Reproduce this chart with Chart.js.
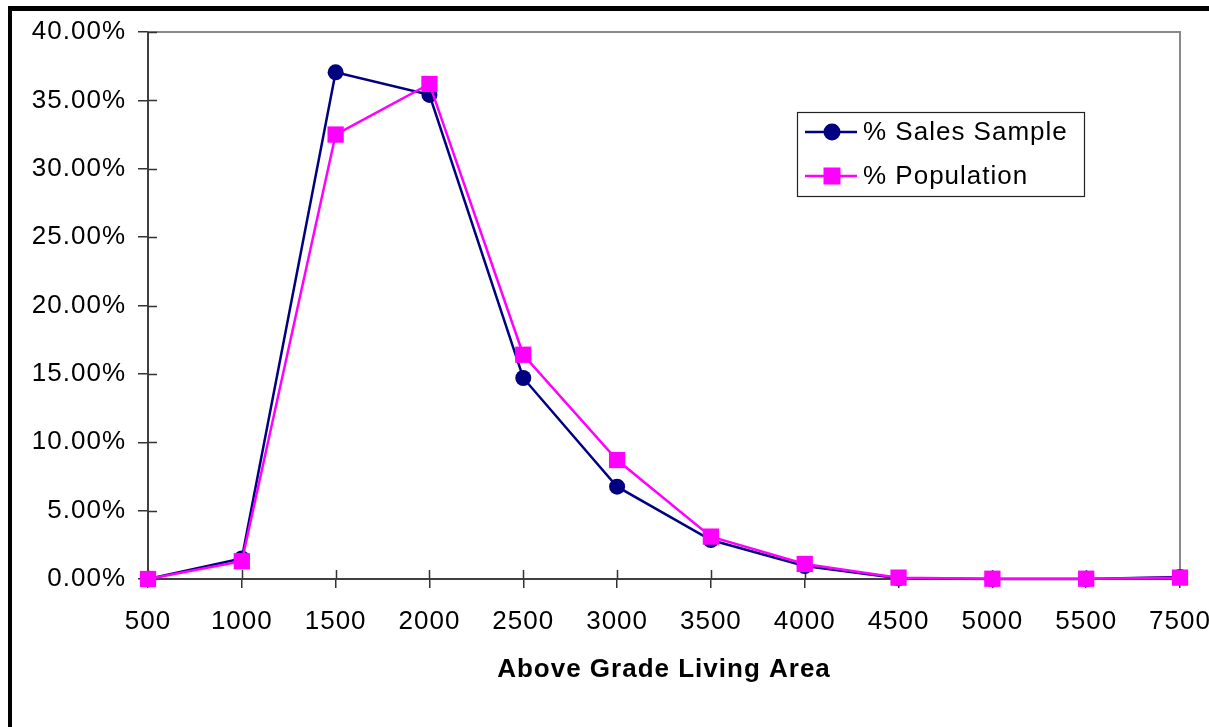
<!DOCTYPE html>
<html>
<head>
<meta charset="utf-8">
<script src="https://cdn.jsdelivr.net/npm/chart.js@4/dist/chart.umd.min.js"></script>
<style>
    html, body { margin: 0; padding: 0; background: #fff; }
    #chart { display: block; }
</style>
</head>
<body>
<canvas id="chart" width="1209" height="727"></canvas>
<script>
// Data
const areaLabels = ['500', '1000', '1500', '2000', '2500', '3000', '3500', '4000', '4500', '5000', '5500', '7500'];
const salesSample = [0, 1.5, 37.05, 35.4, 14.7, 6.75, 2.85, 0.95, 0.05, 0, 0, 0.15];
const population = [0, 1.3, 32.5, 36.2, 16.4, 8.7, 3.1, 1.1, 0.1, 0.02, 0.02, 0.1];
const yTicks = [0, 5, 10, 15, 20, 25, 30, 35, 40];

const NAVY = '#000080';
const MAGENTA = '#FF00FF';
const FONT = "'Liberation Sans', Arial, sans-serif";

// Black outer frame of the sheet
const framePlugin = {
    id: 'frame',
    beforeDraw(chart) {
        const ctx = chart.ctx;
        // the old chart text is set a bit wider than Liberation Sans
        ctx.letterSpacing = '1px';
        ctx.save();
        ctx.fillStyle = '#fff';
        ctx.fillRect(0, 0, chart.width, chart.height);
        ctx.fillStyle = '#000';
        ctx.fillRect(8, 6, chart.width, 5);
        ctx.fillRect(8, 6, 4, chart.height);
        ctx.restore();
    }
};

// Gray top/right plot border and inner half of cross tick marks
const plotBoxPlugin = {
    id: 'plotBox',
    beforeDatasetsDraw(chart) {
        const {ctx, chartArea: a, scales} = chart;
        ctx.save();
        ctx.strokeStyle = '#888';
        ctx.lineWidth = 2;
        ctx.beginPath();
        ctx.moveTo(a.left, a.top);
        ctx.lineTo(a.right, a.top);
        ctx.lineTo(a.right, a.bottom);
        ctx.stroke();

        ctx.strokeStyle = '#333';
        ctx.lineWidth = 1.5;
        ctx.beginPath();
        scales.y.ticks.forEach((t, i) => {
            const y = Math.round(scales.y.getPixelForTick(i)) + 0.5;
            ctx.moveTo(a.left, y);
            ctx.lineTo(a.left + 9, y);
        });
        scales.x.ticks.forEach((t, i) => {
            const x = Math.round(scales.x.getPixelForTick(i)) + 0.5;
            ctx.moveTo(x, a.bottom);
            ctx.lineTo(x, a.bottom - 9);
        });
        ctx.stroke();
        ctx.restore();
    }
};

// Boxed legend inside the plot
const boxLegendPlugin = {
    id: 'boxLegend',
    afterDraw(chart) {
        const ctx = chart.ctx;
        const box = {x: 797, y: 112, w: 287, h: 84};
        ctx.save();
        ctx.fillStyle = '#fff';
        ctx.fillRect(box.x, box.y, box.w, box.h);
        ctx.strokeStyle = '#222';
        ctx.lineWidth = 1.2;
        ctx.strokeRect(box.x + 0.5, box.y + 0.5, box.w, box.h);

        ctx.font = '26px ' + FONT;
        ctx.textBaseline = 'middle';
        ctx.textAlign = 'left';
        chart.data.datasets.forEach((ds, i) => {
            const cy = 132 + i * 44;
            ctx.strokeStyle = ds.borderColor;
            ctx.lineWidth = 2.5;
            ctx.beginPath();
            ctx.moveTo(805, cy);
            ctx.lineTo(857, cy);
            ctx.stroke();
            ctx.fillStyle = ds.pointBackgroundColor;
            if (ds.pointStyle === 'circle') {
                ctx.beginPath();
                ctx.arc(832, cy, 8.5, 0, Math.PI * 2);
                ctx.fill();
            } else {
                ctx.fillRect(832 - 8.5, cy - 8.5, 17, 17);
            }
            ctx.fillStyle = '#000';
            ctx.fillText(ds.label, 863, cy + 1);
        });
        ctx.restore();
    }
};

const ctx = document.getElementById('chart').getContext('2d');

new Chart(ctx, {
    type: 'line',
    data: {
        labels: areaLabels,
        datasets: [{
            label: '% Sales Sample',
            data: salesSample,
            borderColor: NAVY,
            backgroundColor: NAVY,
            pointBackgroundColor: NAVY,
            pointBorderColor: NAVY,
            pointStyle: 'circle',
            pointRadius: 8,
            pointBorderWidth: 0,
            borderWidth: 2.5,
            tension: 0,
            clip: false,
            order: 1
        }, {
            label: '% Population',
            data: population,
            borderColor: MAGENTA,
            backgroundColor: MAGENTA,
            pointBackgroundColor: MAGENTA,
            pointBorderColor: MAGENTA,
            pointStyle: 'rect',
            pointRadius: 11.5,
            pointBorderWidth: 0,
            borderWidth: 2.5,
            tension: 0,
            clip: false,
            order: 0
        }]
    },
    options: {
        responsive: false,
        animation: false,
        devicePixelRatio: 1,
        layout: {
            padding: {left: 0, top: 32, right: 29, bottom: 0}
        },
        plugins: {
            legend: { display: false },
            tooltip: { enabled: false }
        },
        scales: {
            x: {
                offset: false,
                afterFit(scale) {
                    scale.height = 148;
                    scale.paddingLeft = 0;
                    scale.paddingRight = 0;
                },
                grid: {
                    display: true,
                    drawOnChartArea: false,
                    drawTicks: true,
                    tickLength: 9,
                    color: '#333',
                    lineWidth: 1.5
                },
                border: { display: true, color: '#404040', width: 2 },
                ticks: {
                    color: '#000',
                    font: { family: FONT, size: 26 },
                    padding: 18,
                    maxRotation: 0,
                    autoSkip: false
                },
                title: {
                    display: true,
                    text: 'Above Grade Living Area',
                    color: '#000',
                    font: { family: FONT, size: 26, weight: 'bold' },
                    padding: { top: 0, bottom: 42 }
                }
            },
            y: {
                min: 0,
                max: 40,
                afterFit(scale) {
                    scale.width = 148;
                    scale.paddingTop = 0;
                    scale.paddingBottom = 0;
                },
                afterBuildTicks(scale) {
                    scale.ticks = yTicks.map(v => ({ value: v }));
                },
                grid: {
                    display: true,
                    drawOnChartArea: false,
                    drawTicks: true,
                    tickLength: 10,
                    color: '#333',
                    lineWidth: 1.5
                },
                border: { display: true, color: '#404040', width: 2 },
                ticks: {
                    color: '#000',
                    font: { family: FONT, size: 26 },
                    padding: 12,
                    callback: v => v.toFixed(2) + '%'
                }
            }
        }
    },
    plugins: [framePlugin, plotBoxPlugin, boxLegendPlugin]
});
</script>
</body>
</html>
